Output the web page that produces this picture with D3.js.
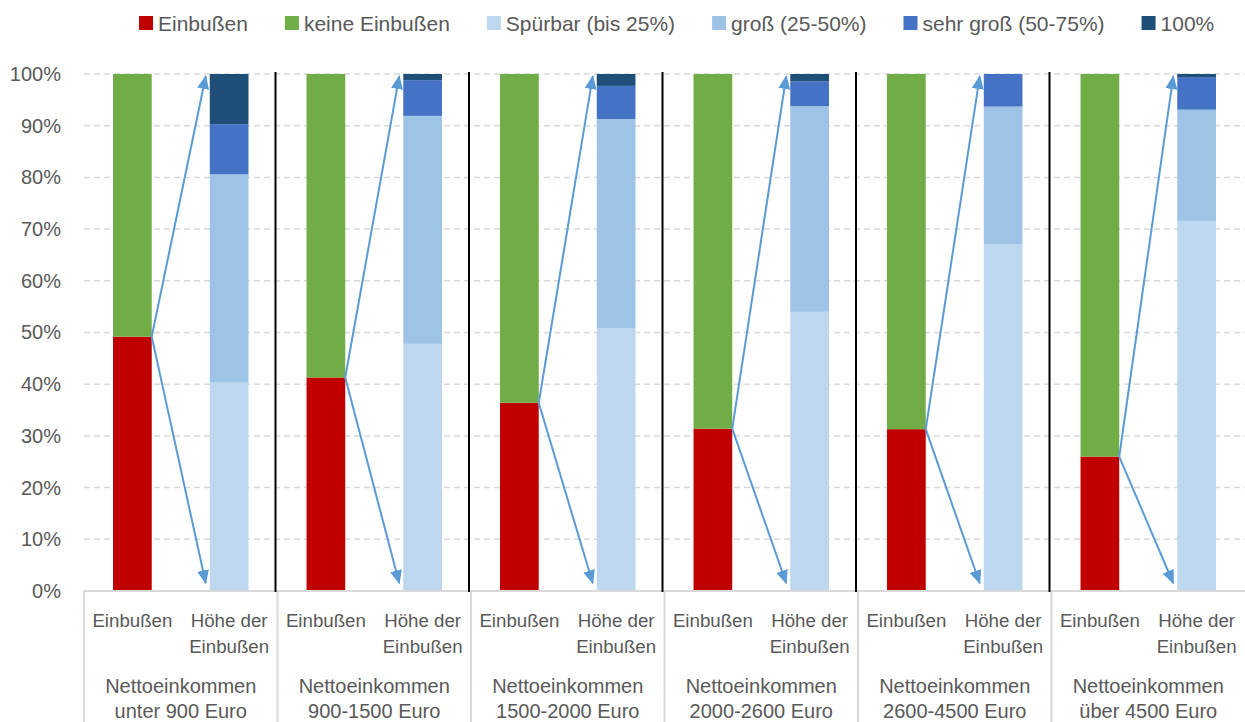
<!DOCTYPE html>
<html>
<head>
<meta charset="utf-8">
<script src="https://d3js.org/d3.v7.min.js"></script>
<style>
  body { margin: 0; background: #fff; }
  text { font-family: "Liberation Sans", Arial, sans-serif; fill: #595959; }
</style>
</head>
<body>
<div id="chart"></div>
<script>
// income groups (two text lines each)
var groups = [
  ["Nettoeinkommen", "unter 900 Euro"],
  ["Nettoeinkommen", "900-1500 Euro"],
  ["Nettoeinkommen", "1500-2000 Euro"],
  ["Nettoeinkommen", "2000-2600 Euro"],
  ["Nettoeinkommen", "2600-4500 Euro"],
  ["Nettoeinkommen", "über 4500 Euro"]
];
var subCats = ["Einbußen", "Höhe der Einbußen"];

// first bar: Einbußen / keine Einbußen (percent)
var einbussen      = [49.2, 41.3, 36.4, 31.4, 31.3, 26.0];
var keineEinbussen = [50.8, 58.7, 63.6, 68.6, 68.7, 74.0];

// second bar: Höhe der Einbußen (percent)
var spuerbar  = [40.3, 47.8, 50.8, 54.0, 67.1, 71.6];
var gross     = [40.3, 44.1, 40.5, 39.8, 26.6, 21.5];
var sehrGross = [9.7, 6.9, 6.4, 4.8, 6.3, 6.3];
var voll      = [9.7, 1.2, 2.3, 1.4, 0.0, 0.6];

var yTicks = [0, 10, 20, 30, 40, 50, 60, 70, 80, 90, 100];

var legendNames = ["Einbußen", "keine Einbußen", "Spürbar (bis 25%)", "groß (25-50%)", "sehr groß (50-75%)", "100%"];
var legendColors = ["#C00000", "#70AD47", "#BDD7EE", "#9DC3E6", "#4472C4", "#1F4E79"];

var width = 1245, height = 722;
var margin = {top: 74, right: 0, bottom: 131, left: 84};

var svg = d3.select("#chart").append("svg")
    .attr("width", width)
    .attr("height", height);

var x0 = d3.scaleBand()
    .domain(d3.range(groups.length))
    .range([margin.left, width - margin.right]);

var x1 = d3.scaleBand()
    .domain(subCats)
    .range([0, x0.bandwidth()])
    .paddingInner(0.6)
    .paddingOuter(0.3);

var y = d3.scaleLinear()
    .domain([0, 100])
    .range([height - margin.bottom, margin.top]);

// gridlines
svg.append("g")
  .selectAll("line")
  .data(yTicks.filter(function(d) { return d > 0; }))
  .enter().append("line")
    .attr("x1", margin.left)
    .attr("x2", width - margin.right)
    .attr("y1", function(d) { return y(d); })
    .attr("y2", function(d) { return y(d); })
    .attr("stroke", "#D9D9D9")
    .attr("stroke-width", 1.5)
    .attr("stroke-dasharray", "6,4");

// y axis labels
var yAxis = svg.append("g")
    .attr("transform", "translate(" + margin.left + ",0)")
    .call(d3.axisLeft(y).tickValues(yTicks).tickFormat(function(d) { return d + "%"; }).tickSize(0).tickPadding(23));
yAxis.select(".domain").remove();
yAxis.selectAll("text")
    .style("font-size", "20px")
    .style("font-family", "Liberation Sans, Arial, sans-serif")
    .attr("fill", "#595959");

// data per group
var table = groups.map(function(g, i) {
  return {i: i, ein: einbussen[i], keine: keineEinbussen[i],
          spuerbar: spuerbar[i], gross: gross[i], sehrGross: sehrGross[i], voll: voll[i]};
});

var stack1 = d3.stack().keys(["ein", "keine"])(table);
var stack2 = d3.stack().keys(["spuerbar", "gross", "sehrGross", "voll"])(table);
var col1 = {ein: "#C00000", keine: "#70AD47"};
var col2 = {spuerbar: "#BDD7EE", gross: "#9DC3E6", sehrGross: "#4472C4", voll: "#1F4E79"};

function drawStack(st, sub, colors) {
  svg.append("g")
    .selectAll("g")
    .data(st)
    .enter().append("g")
      .attr("fill", function(s) { return colors[s.key]; })
    .selectAll("rect")
    .data(function(s) { return s; })
    .enter().append("rect")
      .attr("x", function(d) { return x0(d.data.i) + x1(sub); })
      .attr("width", x1.bandwidth())
      .attr("y", function(d) { return y(d[1]); })
      .attr("height", function(d) { return y(d[0]) - y(d[1]); });
}
drawStack(stack1, subCats[0], col1);
drawStack(stack2, subCats[1], col2);

// category axis box
var axisY = y(0);
var cat = svg.append("g");
cat.append("line")
    .attr("x1", margin.left).attr("x2", width)
    .attr("y1", axisY).attr("y2", axisY)
    .attr("stroke", "#D9D9D9").attr("stroke-width", 2);
cat.selectAll(".sep")
  .data(d3.range(groups.length))
  .enter().append("line")
    .attr("x1", function(i) { return x0(i); })
    .attr("x2", function(i) { return x0(i); })
    .attr("y1", axisY).attr("y2", height)
    .attr("stroke", "#D9D9D9").attr("stroke-width", 2);

groups.forEach(function(g, i) {
  var gx = x0(i);
  var c1 = gx + x1(subCats[0]) + x1.bandwidth() / 2;
  var c2 = gx + x1(subCats[1]) + x1.bandwidth() / 2;
  cat.append("text").attr("x", c1).attr("y", axisY + 36)
     .attr("text-anchor", "middle").style("font-size", "18.7px").text("Einbußen");
  cat.append("text").attr("x", c2).attr("y", axisY + 36)
     .attr("text-anchor", "middle").style("font-size", "18.7px").text("Höhe der");
  cat.append("text").attr("x", c2).attr("y", axisY + 62)
     .attr("text-anchor", "middle").style("font-size", "18.7px").text("Einbußen");
  cat.append("text").attr("x", gx + x0.bandwidth() / 2).attr("y", axisY + 102)
     .attr("text-anchor", "middle").style("font-size", "20px").text(g[0]);
  cat.append("text").attr("x", gx + x0.bandwidth() / 2).attr("y", axisY + 127)
     .attr("text-anchor", "middle").style("font-size", "20px").text(g[1]);
});

// black separators between groups
svg.append("g")
  .selectAll("line")
  .data(d3.range(1, groups.length))
  .enter().append("line")
    .attr("x1", function(i) { return x0(i) - 2; })
    .attr("x2", function(i) { return x0(i) - 2; })
    .attr("y1", y(100) - 2)
    .attr("y2", y(0) + 1)
    .attr("stroke", "#000")
    .attr("stroke-width", 2);

// arrows
svg.append("defs").append("marker")
    .attr("id", "head")
    .attr("viewBox", "0 0 14 12")
    .attr("refX", 13).attr("refY", 6)
    .attr("markerWidth", 14).attr("markerHeight", 12)
    .attr("markerUnits", "userSpaceOnUse")
    .attr("orient", "auto")
  .append("path")
    .attr("d", "M0,0 L14,6 L0,12 Z")
    .attr("fill", "#5B9BD5");

var arrows = svg.append("g");
table.forEach(function(d) {
  var sx = x0(d.i) + x1(subCats[0]) + x1.bandwidth();
  var sy = y(d.ein);
  var tx = x0(d.i) + x1(subCats[1]) - 4;
  [y(99.6), y(1.5)].forEach(function(ty) {
    arrows.append("line")
      .attr("x1", sx).attr("y1", sy)
      .attr("x2", tx).attr("y2", ty)
      .attr("stroke", "#5B9BD5")
      .attr("stroke-width", 2)
      .attr("marker-end", "url(#head)");
  });
});

// legend
var legend = svg.append("g").attr("transform", "translate(139,23)");
var lx = 0;
legendNames.forEach(function(name, i) {
  legend.append("rect").attr("x", lx).attr("y", -7).attr("width", 14).attr("height", 14)
      .attr("fill", legendColors[i]);
  var t = legend.append("text").attr("x", lx + 19).attr("y", 7.5)
      .style("font-size", "21px").text(name);
  lx += 19 + t.node().getComputedTextLength() + 37;
});
</script>
</body>
</html>
